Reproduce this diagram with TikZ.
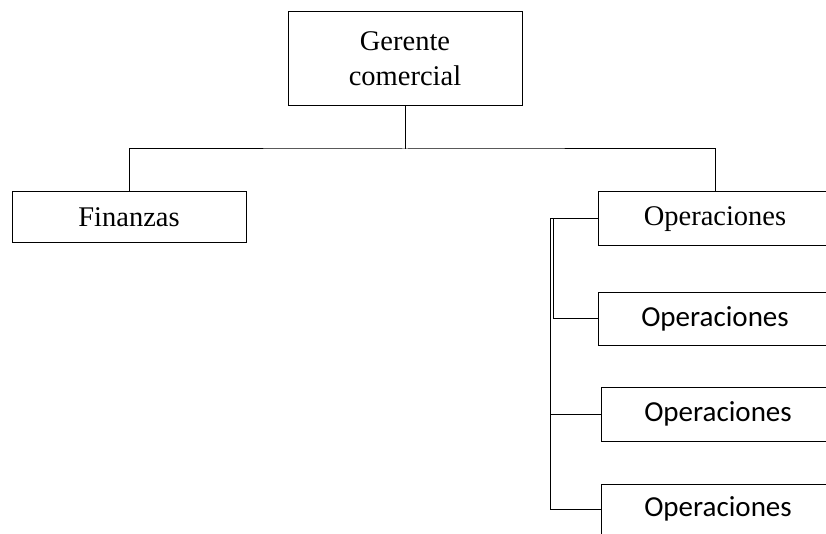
\documentclass[tikz,border=0pt]{standalone}
\usepackage{fontspec}
\setmainfont{Liberation Serif}
\newfontfamily\calfont{Carlito}
\begin{document}
\begin{tikzpicture}[x=1pt,y=-1pt,
  unit/.style={draw,line width=1pt,minimum width=234pt,inner sep=0pt,
    font=\fontsize{28.5}{35}\selectfont,align=center},
  unitc/.style={unit,font=\calfont\fontsize{29}{35}\selectfont},
  link/.style={line width=1pt}]
\useasboundingbox (0,0) rectangle (826,534);
\clip (0,0) rectangle (826,534);
% boxes
\node[unit,minimum height=94pt] (g) at (405,59) {Gerente\\comercial};
\node[unit,minimum height=51pt] (fin) at (129,217.5) {Finanzas};
\node[unit,minimum height=54pt] (op1) at (715,219) {Operaciones};
\node[unitc,minimum height=53pt] (op2) at (715,318.5) {Operaciones};
\node[unitc,minimum height=54pt] (op3) at (718,414) {Operaciones};
\node[unitc,minimum height=50pt] (op4) at (718,509) {Operaciones};
% top level connectors
\coordinate (hub) at (405,149);
\draw[link] (g.south) -- (hub);
\draw[link] (fin.north) |- (hub) -| (op1.north);
% side bus below Operaciones
\coordinate (busA) at (553,219);
\coordinate (busB) at (550,219);
\draw[link] (op1.west) -- (busA) |- (op2.west);
\draw[link] (busA) -- (busB) |- (op4.west);
\draw[link] (busB |- op3.west) -- (op3.west);
\end{tikzpicture}
\end{document}
